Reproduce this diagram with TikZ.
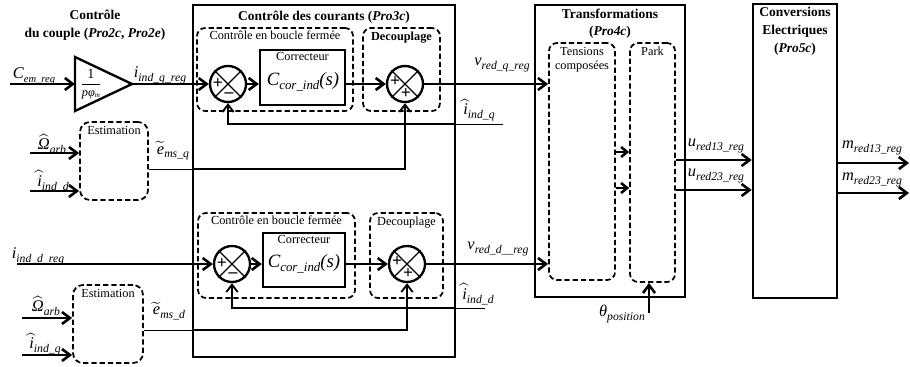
\documentclass[tikz,border=0pt]{standalone}
\usepackage{amsmath}
\usepackage{fontspec}
\setmainfont{Liberation Serif}
\usetikzlibrary{arrows.meta, fit, calc}

\newcommand{\sig}[3][10]{#2\raisebox{-0.5ex}{\fontsize{#1}{#1}\selectfont\itshape #3}}
\newcommand{\ihat}{$\widehat{\hbox{\itshape i}}$}
\newcommand{\Ohat}{$\widehat{\hbox{\itshape Ω}}$}
\newcommand{\etil}{$\widetilde{\hbox{\itshape e}}$}

\begin{document}
\begin{tikzpicture}[
    x=0.3mm, y=-0.3mm,
    font=\fontsize{10.5}{12}\selectfont,
    bigbox/.style={draw=black, line width=2.2pt, inner sep=0pt},
    dashbox/.style={draw=black, line width=1.5pt, dash pattern=on 4.5pt off 2.5pt,
                    rounded corners=2.4mm, inner sep=0pt},
    corrbox/.style={draw=black, line width=2pt, inner sep=0pt},
    sumnode/.style={draw=black, circle, line width=2pt, minimum size=10.8mm, inner sep=0pt},
    sign/.style={font=\bfseries\fontsize{15}{15}\selectfont, inner sep=0pt},
    title/.style={font=\bfseries\fontsize{11.5}{15}\selectfont, align=center},
    lbl/.style={font=\fontsize{14}{16}\selectfont\itshape, inner sep=0pt},
    mainline/.style={draw=black, line width=2.2pt, -{Straight Barb[length=2.4mm, width=3.6mm]}},
    feed/.style={draw=black, line width=1.6pt, -{Straight Barb[length=2.2mm, width=3.4mm]}},
    weak/.style={draw=black, line width=0.7pt},
  ]
  \useasboundingbox (0,0) rectangle (910,367);

  % blocs principaux
  \node[title] (tcouple) at (95,25) {Contrôle\\du couple (\textit{Pro2c}, \textit{Pro2e})};
  \node[bigbox, fit={(193,5) (455,357)}] (cc) {};
  \node[title] (cctitle) at (324,17) {Contrôle des courants (\textit{Pro3c})};
  \node[bigbox, fit={(535,5) (685,297)}] (tr) {};
  \node[title, anchor=north, inner sep=4pt] (trtitle) at (tr.north) {Transformations\\(\textit{Pro4c})};
  \node[dashbox, fit={(549,43) (615,280)}] (tens) {};
  \node[anchor=north, align=center, inner sep=4pt] (tenslbl) at (tens.north) {Tensions\\composées};
  \node[dashbox, fit={(630,43) (675,282)}] (park) {};
  \node[anchor=north, inner sep=4pt] (parklbl) at (park.north) {Park};
  \node[bigbox, fit={(753,4) (837,298)}] (conv) {};
  \node[title, anchor=north, inner sep=4pt] (convtitle) at (conv.north) {Conversions\\Electriques\\(\textit{Pro5c})};

  % axe q
  \coordinate (cem) at (10,84);
  \coordinate (gainout) at (132,84);
  \draw[line width=2pt] (75,57) -- (gainout) -- (75,111) -- cycle;
  \node (gainfrac) at (91,84) {$\dfrac{\hbox{\fontsize{12}{12}\selectfont 1}}{\hbox{\itshape pφ\raisebox{-0.3ex}{\fontsize{6}{6}\selectfont m}}}$};
  \draw[mainline] (cem) -- (75,84);
  \node[lbl] (cemlbl) at (34,76) {\sig[9]{C}{em\_reg}};
  \node[sumnode] (sum1) at (228,84) {};
  \node[lbl] (iqreglbl) at (160,75) {\sig{i}{ind\_q\_reg}};
  \draw[mainline] (gainout) -- (sum1);
  \node[dashbox, fit={(197,28) (353,111)}] (loop1) {};
  \node[anchor=north, inner sep=3pt] (loop1lbl) at (loop1.north) {Contrôle en boucle fermée};
  \node[corrbox, fit={(260,50) (345,105)}] (corr1) {};
  \node[anchor=north, inner sep=3pt] (corr1lbl) at (corr1.north) {Correcteur};
  \node[lbl, font=\fontsize{16}{18}\selectfont\itshape] (corr1tf) at (303,82) {\sig[11]{C}{cor\_ind}(s)};
  \node[dashbox, fit={(363,28) (440,111)}] (dec1) {};
  \node[anchor=north, font=\bfseries\fontsize{10.5}{12}\selectfont, inner sep=4pt] (dec1lbl) at (dec1.north) {Decouplage};
  \node[sumnode] (sum2) at (405,84) {};
  \draw[mainline] (sum1) -- (sum1 -| corr1.west);
  \draw[mainline] (sum1 -| corr1.east) -- (sum2);
  \draw[mainline] (sum2) -- (sum2 -| tens.west);
  \node[lbl] (vqlbl) at (502,65) {\sig{v}{red\_q\_reg}};
  \coordinate (fbq) at (503,124);
  \draw[weak] (fbq) -- (fbq -| cc.east);
  \draw[feed] (fbq -| cc.east) -- (fbq -| sum1) -- (sum1);
  \node[lbl] (fbqlbl) at (479,110) {\sig{\ihat}{ind\_q}};
  \node[dashbox, rounded corners=3mm, fit={(80,122) (148,200)}] (est1) {};
  \node[anchor=north, inner sep=4pt] (est1lbl) at (est1.north) {Estimation};
  \coordinate (om1) at (30,153);
  \coordinate (id1) at (30,191);
  \draw[mainline] (om1) -- (om1 -| est1.west);
  \draw[mainline] (id1) -- (id1 -| est1.west);
  \node[lbl] (om1lbl) at (52,144) {\sig{\Ohat}{arb}};
  \node[lbl] (id1lbl) at (53,181) {\sig{\ihat}{ind\_d}};
  \coordinate (emq) at (est1.east |- 0,169);
  \draw[weak] (emq) -- (emq -| cc.west);
  \draw[feed] (emq -| cc.west) -- (emq -| sum2) -- (sum2);
  \node[lbl] (emqlbl) at (173,151) {\sig{\etil}{ms\_q}};

  % axe d
  \coordinate (idreg) at (17,264);
  \node[sumnode] (sum3) at (232,264) {};
  \draw[mainline] (idreg) -- (sum3);
  \node[lbl] (idreglbl) at (38,256) {\sig{i}{ind\_d\_reg}};
  \node[dashbox, fit={(198,213) (355,298)}] (loop2) {};
  \node[anchor=north, inner sep=3pt] (loop2lbl) at (loop2.north) {Contrôle en boucle fermée};
  \node[corrbox, fit={(263,233) (345,287)}] (corr2) {};
  \node[anchor=north, inner sep=3pt] (corr2lbl) at (corr2.north) {Correcteur};
  \node[lbl, font=\fontsize{16}{18}\selectfont\itshape] (corr2tf) at (304,264) {\sig[11]{C}{cor\_ind}(s)};
  \node[dashbox, fit={(370,213) (443,298)}] (dec2) {};
  \node[anchor=north, inner sep=4pt] (dec2lbl) at (dec2.north) {Decouplage};
  \node[sumnode] (sum4) at (407,264) {};
  \draw[mainline] (sum3) -- (sum3 -| corr2.west);
  \draw[mainline] (sum3 -| corr2.east) -- (sum4);
  \draw[mainline] (sum4) -- (sum4 -| tens.west);
  \node[lbl] (vdlbl) at (498,249) {\sig{v}{red\_d\_\_reg}};
  \coordinate (fbd) at (485,308);
  \draw[weak] (fbd) -- (fbd -| cc.east);
  \draw[feed] (fbd -| cc.east) -- (fbd -| sum3) -- (sum3);
  \node[lbl] (fbdlbl) at (478,294) {\sig{\ihat}{ind\_d}};
  \node[dashbox, rounded corners=3mm, fit={(73,285) (143,363)}] (est2) {};
  \node[anchor=north, inner sep=4pt] (est2lbl) at (est2.north) {Estimation};
  \coordinate (om2) at (22,318);
  \coordinate (iq2) at (22,355);
  \draw[mainline] (om2) -- (om2 -| est2.west);
  \draw[mainline] (iq2) -- (iq2 -| est2.west);
  \node[lbl] (om2lbl) at (46,306) {\sig{\Ohat}{arb}};
  \node[lbl] (iq2lbl) at (45,344) {\sig{\ihat}{ind\_q}};
  \coordinate (emd) at (est2.east |- 0,330);
  \draw[weak] (emd) -- (emd -| cc.west);
  \draw[feed] (emd -| cc.west) -- (emd -| sum4) -- (sum4);
  \node[lbl] (emdlbl) at (169,311) {\sig{\etil}{ms\_d}};

  % sommateurs
  \foreach \s in {sum1, sum2, sum3, sum4}
    \draw[line width=1.1pt] (\s.north west) -- (\s.south east) (\s.north east) -- (\s.south west);
  \node[sign] (s1a) at ($(sum1)+(-10,0)$) {+};
  \node[sign] (s1b) at ($(sum1)+(1,11)$) {–};
  \node[sign] (s2a) at ($(sum2)+(-10,-2)$) {+};
  \node[sign] (s2b) at ($(sum2)+(1,10)$) {+};
  \node[sign] (s3a) at ($(sum3)+(-10,0)$) {+};
  \node[sign] (s3b) at ($(sum3)+(1,11)$) {–};
  \node[sign] (s4a) at ($(sum4)+(-10,-2)$) {+};
  \node[sign] (s4b) at ($(sum4)+(1,10)$) {+};

  % transformations et conversions
  \foreach \y in {152, 188}
    \draw[mainline, -{Straight Barb[length=1.8mm, width=3mm]}] (tens.east |- 0,\y) -- (park.west |- 0,\y);
  \coordinate (th) at (649,313);
  \draw[mainline] (th) -- (th |- park.south);
  \node[lbl] (thlbl) at (622,314) {\sig{θ}{position}};
  \coordinate (u13) at (park.east |- 0,160);
  \coordinate (u23) at (park.east |- 0,190);
  \draw[mainline] (u13) -- (u13 -| conv.west);
  \draw[mainline] (u23) -- (u23 -| conv.west);
  \node[lbl] (u13lbl) at (716,146) {\sig{u}{red13\_reg}};
  \node[lbl] (u23lbl) at (716,176) {\sig{u}{red23\_reg}};
  \coordinate (m13) at (909,163);
  \coordinate (m23) at (909,193);
  \draw[mainline] (m13 -| conv.east) -- (m13);
  \draw[mainline] (m23 -| conv.east) -- (m23);
  \node[lbl] (m13lbl) at (872,148) {\sig{m}{red13\_reg}};
  \node[lbl] (m23lbl) at (872,180) {\sig{m}{red23\_reg}};
\end{tikzpicture}
\end{document}
